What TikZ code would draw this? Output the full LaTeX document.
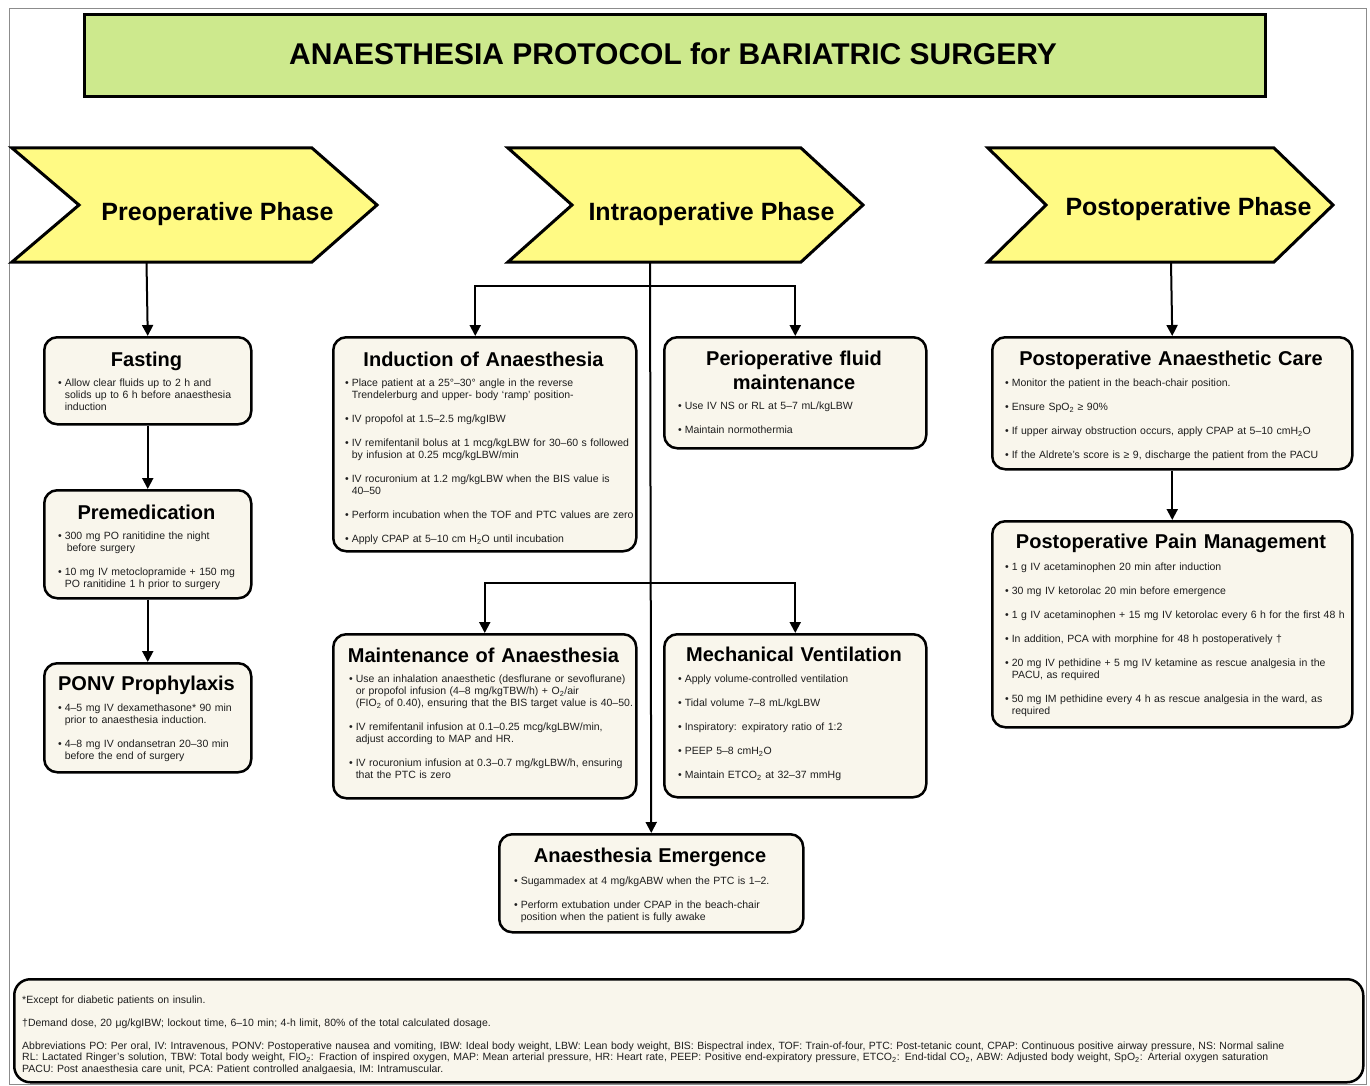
\documentclass[tikz,border=0pt]{standalone}
\usepackage{fontspec}
\setmainfont{Liberation Sans}
\usetikzlibrary{arrows.meta,calc}

\definecolor{headgreen}{HTML}{CDE98D}
\definecolor{phaseyellow}{HTML}{FFFA84}
\definecolor{cardcream}{HTML}{F9F6EC}
\definecolor{inkgray}{HTML}{1E1E1E}

\newlength\bulletw
\setlength\bulletw{6.6pt}
% one bullet point with a hanging indent, closed as its own paragraph
\newcommand\bpt[1]{\hangindent\bulletw\hangafter1\noindent\makebox[\bulletw][l]{\textbullet}#1\par}
% gap between two bullet points
\newcommand\bgap{\vskip12pt}

\tikzset{
  pageframe/.style={draw=black!45, line width=1pt},
  headbox/.style={draw=black, line width=3pt, fill=headgreen, inner sep=0},
  headtext/.style={font=\fontsize{30}{36}\selectfont\bfseries, inner sep=0, anchor=base},
  chevron/.style={draw=black, line width=3pt, fill=phaseyellow, line join=miter},
  phasetext/.style={font=\fontsize{25}{30}\selectfont\bfseries, inner sep=0, anchor=base},
  card/.style={draw=black, line width=2.5pt, fill=cardcream, rounded corners=13pt, anchor=north west, inner sep=0},
  cardtitle/.style={font=\fontsize{20}{24}\selectfont\bfseries, inner sep=0, anchor=base, align=center, text width=360pt},
  cardbody/.style={font=\fontsize{10.5}{12}\selectfont, text=inkgray, inner sep=0, anchor=base west, align=left, text width=400pt},
  notetext/.style={font=\fontsize{10.5}{11.5}\selectfont, text=inkgray, inner sep=0, anchor=base west, align=left, text width=1400pt},
  link/.style={line width=2pt, -{Triangle[length=11pt,width=11pt]}},
}

\begin{document}
\begin{tikzpicture}[x=1pt,y=-1pt]
\useasboundingbox (0,0) rectangle (1370,1086);
\draw[pageframe] (9.5,8.5) rectangle (1366.5,1084.5);

% heading banner
\node[headbox, minimum width=1181pt, minimum height=82pt] (head) at (674.5,56) {};
\node[headtext] (headlabel) at (673,65) {ANAESTHESIA PROTOCOL for BARIATRIC SURGERY};

% phase chevrons
\draw[chevron] (12,148) -- (312,148) -- (377,205) -- (312,262) -- (12,262) -- (79,205) -- cycle;
\draw[chevron] (508,148) -- (801,148) -- (863,205) -- (801,262) -- (508,262) -- (572,205) -- cycle;
\draw[chevron] (988,148) -- (1274,148) -- (1333,205) -- (1274,262) -- (988,262) -- (1046,205) -- cycle;
\node[phasetext] (prelabel) at (217.5,221) {Preoperative Phase};
\node[phasetext] (intralabel) at (711.5,221) {Intraoperative Phase};
\node[phasetext] (postlabel) at (1188.5,215) {Postoperative Phase};
\coordinate (preB) at (146.5,262);
\coordinate (intraB) at (650,262);
\coordinate (postB) at (1171,262);
\coordinate (fork1) at (650,286);
\coordinate (fork2) at (650,583);

% preoperative column
\node[card, minimum width=207pt, minimum height=87pt] (fasting) at (43,336) {};
\node[cardtitle] (fastingT) at (146.5,366) {Fasting};
\node[cardbody] (fastingB) at (58,386.5) {\bpt{Allow clear fluids up to 2 h and\newline solids up to 6 h before anaesthesia\newline induction}};

\node[card, minimum width=207pt, minimum height=108pt] (premed) at (43,489) {};
\node[cardtitle] (premedT) at (146.5,519) {Premedication};
\node[cardbody] (premedB) at (58,539.5) {\bpt{300 mg PO ranitidine the night\newline\hspace*{2pt}before surgery}\bgap
\bpt{10 mg IV metoclopramide + 150 mg\newline PO ranitidine 1 h prior to surgery}};

\node[card, minimum width=207pt, minimum height=109pt] (ponv) at (43,662) {};
\node[cardtitle] (ponvT) at (146.5,690) {PONV Prophylaxis};
\node[cardbody] (ponvB) at (58,711.5) {\bpt{4–5 mg IV dexamethasone* 90 min\newline prior to anaesthesia induction.}\bgap
\bpt{4–8 mg IV ondansetran 20–30 min\newline before the end of surgery}};

% intraoperative column
\node[card, minimum width=303pt, minimum height=214pt] (induction) at (332,336) {};
\node[cardtitle] (inductionT) at (483.5,366) {Induction of Anaesthesia};
\node[cardbody] (inductionB) at (345,386.5) {\bpt{Place patient at a 25°–30° angle in the reverse\newline Trendelerburg and upper- body ‘ramp’ position-}\bgap
\bpt{IV propofol at 1.5–2.5 mg/kgIBW}\bgap
\bpt{IV remifentanil bolus at 1 mcg/kgLBW for 30–60 s followed\newline by infusion at 0.25 mcg/kgLBW/min}\bgap
\bpt{IV rocuronium at 1.2 mg/kgLBW when the BIS value is\newline 40–50}\bgap
\bpt{Perform incubation when the TOF and PTC values are zero}\bgap
\bpt{Apply CPAP at 5–10 cm H\textsubscript{2}O until incubation}};

\node[card, minimum width=262pt, minimum height=111pt] (periop) at (663,336) {};
\node[cardtitle] (periopT) at (794,365) {Perioperative fluid\\maintenance};
\node[cardbody] (periopB) at (678,409.5) {\bpt{Use IV NS or RL at 5–7 mL/kgLBW}\bgap
\bpt{Maintain normothermia}};

\node[card, minimum width=303pt, minimum height=164pt] (maint) at (332,633) {};
\node[cardtitle] (maintT) at (483.5,662) {Maintenance of Anaesthesia};
\node[cardbody] (maintB) at (349,682.5) {\bpt{Use an inhalation anaesthetic (desflurane or sevoflurane)\newline or propofol infusion (4–8 mg/kgTBW/h) + O\textsubscript{2}/air\newline (FIO\textsubscript{2} of 0.40), ensuring that the BIS target value is 40–50.}\bgap
\bpt{IV remifentanil infusion at 0.1–0.25 mcg/kgLBW/min,\newline adjust according to MAP and HR.}\bgap
\bpt{IV rocuronium infusion at 0.3–0.7 mg/kgLBW/h, ensuring\newline that the PTC is zero}};

\node[card, minimum width=262pt, minimum height=163pt] (mech) at (663,633) {};
\node[cardtitle] (mechT) at (794,661) {Mechanical Ventilation};
\node[cardbody] (mechB) at (678,682.5) {\bpt{Apply volume-controlled ventilation}\bgap
\bpt{Tidal volume 7–8 mL/kgLBW}\bgap
\bpt{Inspiratory: expiratory ratio of 1:2}\bgap
\bpt{PEEP 5–8 cmH\textsubscript{2}O}\bgap
\bpt{Maintain ETCO\textsubscript{2} at 32–37 mmHg}};

\node[card, minimum width=304pt, minimum height=98pt] (emerge) at (498,833) {};
\node[cardtitle] (emergeT) at (650,862) {Anaesthesia Emergence};
\node[cardbody] (emergeB) at (514,884.5) {\bpt{Sugammadex at 4 mg/kgABW when the PTC is 1–2.}\bgap
\bpt{Perform extubation under CPAP in the beach-chair\newline position when the patient is fully awake}};

% postoperative column
\node[card, minimum width=360pt, minimum height=132pt] (care) at (991,336) {};
\node[cardtitle] (careT) at (1171,365) {Postoperative Anaesthetic Care};
\node[cardbody] (careB) at (1005,386.5) {\bpt{Monitor the patient in the beach-chair position.}\bgap
\bpt{Ensure SpO\textsubscript{2} ≥ 90\%}\bgap
\bpt{If upper airway obstruction occurs, apply CPAP at 5–10 cmH\textsubscript{2}O}\bgap
\bpt{If the Aldrete's score is ≥ 9, discharge the patient from the PACU}};

\node[card, minimum width=360pt, minimum height=206pt] (pain) at (991,520) {};
\node[cardtitle] (painT) at (1171,548) {Postoperative Pain Management};
\node[cardbody] (painB) at (1005,570.5) {\bpt{1 g IV acetaminophen 20 min after induction}\bgap
\bpt{30 mg IV ketorolac 20 min before emergence}\bgap
\bpt{1 g IV acetaminophen + 15 mg IV ketorolac every 6 h for the first 48 h}\bgap
\bpt{In addition, PCA with morphine for 48 h postoperatively †}\bgap
\bpt{20 mg IV pethidine + 5 mg IV ketamine as rescue analgesia in the\newline PACU, as required}\bgap
\bpt{50 mg IM pethidine every 4 h as rescue analgesia in the ward, as\newline required}};

% footnotes
\node[card, rounded corners=16pt, minimum width=1349pt, minimum height=103pt] (notes) at (13,978) {};
\node[notetext] (note1) at (22,1003) {*Except for diabetic patients on insulin.};
\node[notetext] (note2) at (22,1026) {†Demand dose, 20 μg/kgIBW; lockout time, 6–10 min; 4-h limit, 80\% of the total calculated dosage.};
\node[notetext] (note3) at (22,1049) {Abbreviations PO: Per oral, IV: Intravenous, PONV: Postoperative nausea and vomiting, IBW: Ideal body weight, LBW: Lean body weight, BIS: Bispectral index, TOF: Train-of-four, PTC: Post-tetanic count, CPAP: Continuous positive airway pressure, NS: Normal saline\newline
RL: Lactated Ringer's solution, TBW: Total body weight, FIO\textsubscript{2}: Fraction of inspired oxygen, MAP: Mean arterial pressure, HR: Heart rate, PEEP: Positive end-expiratory pressure, ETCO\textsubscript{2}: End-tidal CO\textsubscript{2}, ABW: Adjusted body weight, SpO\textsubscript{2}: Arterial oxygen saturation\newline
PACU: Post anaesthesia care unit, PCA: Patient controlled analgaesia, IM: Intramuscular.};

% connectors
\draw[link] (preB) -- (fasting.north);
\draw[link] (fasting.south) -- (premed.north);
\draw[link] (premed.south) -- (ponv.north);
\draw[link] (intraB) -- (emerge.north);
\draw[link] (fork1) -| ($(induction.north)+(-9.5,0)$);
\draw[link] (fork1) -| (periop.north);
\draw[link] (fork2) -| (maint.north);
\draw[link] (fork2) -| (mech.north);
\draw[link] (postB) -- (care.north);
\draw[link] (care.south) -- (pain.north);
\end{tikzpicture}
\end{document}
